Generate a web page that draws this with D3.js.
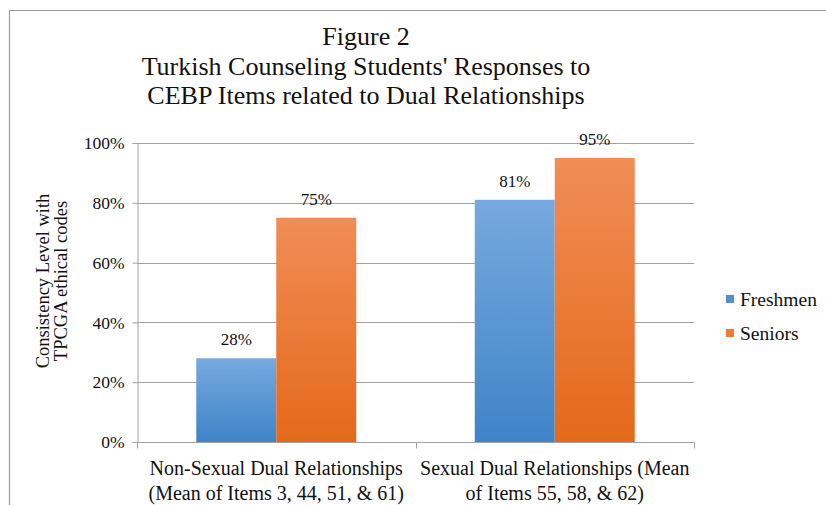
<!DOCTYPE html>
<html>
<head>
<meta charset="utf-8">
<script src="https://cdn.jsdelivr.net/npm/d3@7"></script>
<style>
  html, body { margin: 0; padding: 0; background: #fff; }
  svg { display: block; }
  text { font-family: "Liberation Serif", "Times New Roman", serif; fill: #111; }
</style>
</head>
<body>
<svg id="chart" width="826" height="505"></svg>
<script>
// Chart data
const categories = [
  ["Non-Sexual Dual Relationships", "(Mean of Items 3, 44, 51, & 61)"],
  ["Sexual Dual Relationships (Mean", "of Items 55, 58, & 62)"]
];
const seriesNames = ["Freshmen", "Seniors"];
const freshmen = [28, 81];
const seniors = [75, 95];
const yTicks = [0, 20, 40, 60, 80, 100];
const titleLines = ["Figure 2", "Turkish Counseling Students' Responses to", "CEBP Items related to Dual Relationships"];
const yTitleLines = ["Consistency Level with", "TPCGA ethical codes"];

const svg = d3.select("#chart");
const margin = { left: 137, right: 694, top: 143, bottom: 442 };

// Gradient fills for the bars
const defs = svg.append("defs");
const grads = [
  { id: "gBlue", top: "#77a9de", bottom: "#3f84c8" },
  { id: "gOrange", top: "#f18d57", bottom: "#e4691a" }
];
grads.forEach(g => {
  const lg = defs.append("linearGradient").attr("id", g.id)
    .attr("x1", 0).attr("y1", 0).attr("x2", 0).attr("y2", 1);
  lg.append("stop").attr("offset", "0%").attr("stop-color", g.top);
  lg.append("stop").attr("offset", "100%").attr("stop-color", g.bottom);
});
const fills = ["url(#gBlue)", "url(#gOrange)"];
const legendColors = ["#4f8fd2", "#ef7a30"];

// Frame
svg.append("path").attr("d", "M9.5,505 V10.5 H826")
  .attr("fill", "none").attr("stroke", "#9a9a9a").attr("stroke-width", 1.2);

// Scales
const x0 = d3.scaleBand().domain(d3.range(categories.length))
  .range([margin.left, margin.right]).paddingInner(0.4255).paddingOuter(0.2128);
const x1 = d3.scaleBand().domain(d3.range(seriesNames.length))
  .range([0, x0.bandwidth()]);
const y = d3.scaleLinear().domain([0, 100]).range([margin.bottom, margin.top]);

// Gridlines
svg.append("g").selectAll("line").data(yTicks.filter(d => d > 0)).join("line")
  .attr("x1", margin.left).attr("x2", margin.right)
  .attr("y1", d => Math.round(y(d)) + 0.5).attr("y2", d => Math.round(y(d)) + 0.5)
  .attr("stroke", "#a3a3a3").attr("stroke-width", 1);

// Y axis
const yAxis = svg.append("g").attr("transform", `translate(${margin.left + 0.5},0)`)
  .call(d3.axisLeft(y).tickValues(yTicks).tickFormat(d => d + "%").tickSize(5).tickPadding(8));
yAxis.select(".domain").attr("stroke", "#a3a3a3");
yAxis.selectAll(".tick line").attr("stroke", "#a3a3a3");
yAxis.selectAll(".tick text").attr("font-size", 17.5)
  .attr("font-family", "Liberation Serif, serif").attr("fill", "#111");

// Bars
const allSeries = [freshmen, seniors];
const groups = svg.append("g").selectAll("g").data(categories.map((c, i) => i)).join("g")
  .attr("transform", i => `translate(${x0(i)},0)`);
groups.selectAll("rect").data(i => allSeries.map((s, k) => ({ k, v: s[i] }))).join("rect")
  .attr("x", d => x1(d.k)).attr("width", x1.bandwidth())
  .attr("y", d => y(d.v)).attr("height", d => y(0) - y(d.v))
  .attr("fill", d => fills[d.k]);
groups.selectAll("text").data(i => allSeries.map((s, k) => ({ k, v: s[i] }))).join("text")
  .attr("x", d => x1(d.k) + x1.bandwidth() / 2).attr("y", d => y(d.v) - 13)
  .attr("text-anchor", "middle").attr("font-size", 17)
  .text(d => d.v + "%");

// X axis
const xAxisG = svg.append("g").attr("transform", `translate(0,${margin.bottom + 0.5})`);
xAxisG.append("line").attr("x1", margin.left).attr("x2", margin.right)
  .attr("stroke", "#a3a3a3");
const boundaries = [margin.left, ...d3.range(1, categories.length).map(i => x0(i) - x0.step() * x0.paddingInner() / 2), margin.right];
xAxisG.selectAll("line.tk").data(boundaries).join("line").attr("class", "tk")
  .attr("x1", d => Math.round(d) + 0.5).attr("x2", d => Math.round(d) + 0.5)
  .attr("y1", 0).attr("y2", 6).attr("stroke", "#a3a3a3");
const xl = svg.append("g").selectAll("text").data(categories).join("text")
  .attr("x", (d, i) => x0(i) + x0.bandwidth() / 2)
  .attr("y", 475).attr("text-anchor", "middle").attr("font-size", 20);
xl.selectAll("tspan").data(d => d).join("tspan")
  .attr("x", function () { return d3.select(this.parentNode).attr("x"); })
  .attr("dy", (d, j) => j === 0 ? 0 : 25).text(d => d);

// Y axis title
const yt = svg.append("text").attr("transform", "translate(49,281) rotate(-90)")
  .attr("text-anchor", "middle").attr("font-size", 18.5);
yt.selectAll("tspan").data(yTitleLines).join("tspan")
  .attr("x", 0).attr("dy", (d, j) => j === 0 ? 0 : 18).text(d => d);

// Title
svg.append("g").selectAll("text").data(titleLines).join("text")
  .attr("x", 366).attr("y", (d, i) => [45, 75, 104][i])
  .attr("text-anchor", "middle").attr("font-size", 26).text(d => d);

// Legend
const lg = svg.append("g").selectAll("g").data(seriesNames).join("g")
  .attr("transform", (d, i) => `translate(726,${299 + i * 34})`);
lg.append("rect").attr("x", 0).attr("y", -4).attr("width", 8).attr("height", 8)
  .attr("fill", (d, i) => legendColors[i]);
lg.append("text").attr("x", 14).attr("y", 6.5).attr("font-size", 19.5).text(d => d);
</script>
</body>
</html>
